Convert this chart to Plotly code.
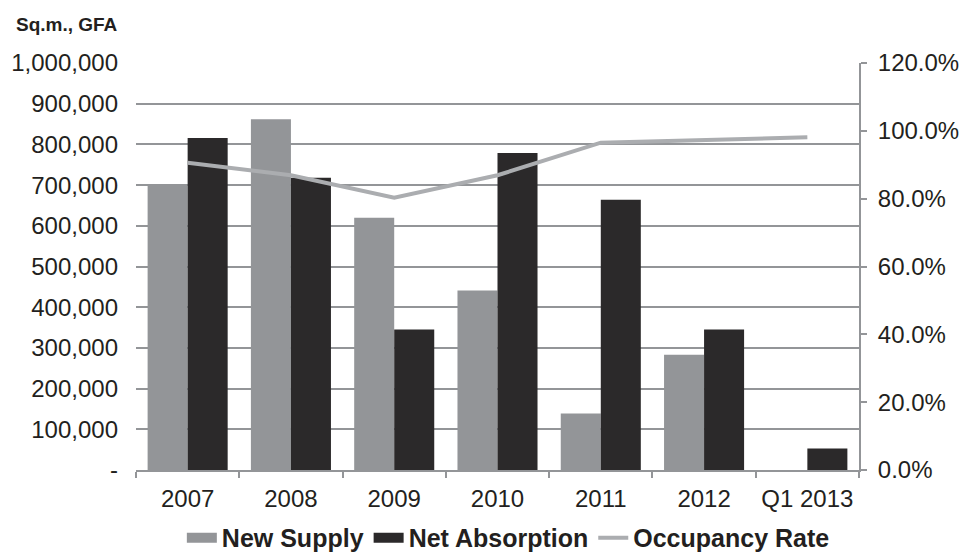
import plotly.graph_objects as go

# Office market data, annual figures with the first quarter of 2013
categories = ["2007", "2008", "2009", "2010", "2011", "2012", "Q1 2013"]
new_supply = [700000, 862000, 620000, 441000, 139000, 283000, None]
net_absorption = [816000, 718000, 345000, 779000, 664000, 345000, 53000]
occupancy_rate = [0.906, 0.869, 0.803, 0.869, 0.965, 0.974, 0.981]

left_tickvals = [0, 100000, 200000, 300000, 400000, 500000, 600000, 700000, 800000, 900000, 1000000]
left_ticktext = ["-", "100,000", "200,000", "300,000", "400,000", "500,000",
                 "600,000", "700,000", "800,000", "900,000", "1,000,000"]

GRAY_BAR = "#939598"
DARK_BAR = "#2b292a"
LINE_GRAY = "#abadb0"
AXIS_GRAY = "#939598"
TEXT = "#231f20"
FONT = "Liberation Sans, Arial, sans-serif"

fig = go.Figure()
fig.add_trace(go.Bar(x=categories, y=new_supply, name="New Supply", legendgroup="ns",
                     showlegend=False, marker=dict(color=GRAY_BAR, line=dict(width=0))))
fig.add_trace(go.Bar(x=categories, y=net_absorption, name="Net Absorption", legendgroup="na",
                     showlegend=False, marker=dict(color=DARK_BAR, line=dict(width=0))))

# Wide rectangular legend keys for the bar series
fig.add_trace(go.Scatter(x=[None], y=[None], mode="lines", name="New Supply",
                         legendgroup="ns", line=dict(color=GRAY_BAR, width=10)))
fig.add_trace(go.Scatter(x=[None], y=[None], mode="lines", name="Net Absorption",
                         legendgroup="na", line=dict(color=DARK_BAR, width=10)))

fig.add_trace(go.Scatter(x=categories, y=occupancy_rate, name="Occupancy Rate",
                         mode="lines", yaxis="y2",
                         line=dict(color=LINE_GRAY, width=4)))

fig.update_layout(
    width=966, height=552,
    margin=dict(l=136, r=107, t=63, b=82, autoexpand=False),
    paper_bgcolor="white", plot_bgcolor="white",
    font=dict(family=FONT, size=24, color=TEXT),
    barmode="group", bargap=0.225, bargroupgap=0,
    showlegend=True,
    legend=dict(orientation="h", x=0.515, xanchor="center", y=-0.167, yanchor="middle",
                font=dict(family=FONT, size=25, color=TEXT, weight="bold"),
                itemwidth=30, tracegroupgap=0, bgcolor="rgba(0,0,0,0)",
                traceorder="normal"),
    xaxis=dict(type="category", showline=True, linecolor=AXIS_GRAY, linewidth=2,
               ticks="outside", tickson="boundaries", ticklen=6, tickwidth=2,
               tickcolor=AXIS_GRAY, showgrid=False, ticklabelstandoff=6,
               automargin=False, tickfont=dict(size=24, color=TEXT)),
    yaxis=dict(range=[0, 1000000], tickvals=left_tickvals, ticktext=left_ticktext,
               showgrid=True, gridcolor=AXIS_GRAY, gridwidth=2, zeroline=False,
               showline=False, ticks="", ticklabelstandoff=17, automargin=False,
               tickfont=dict(size=24, color=TEXT)),
    yaxis2=dict(overlaying="y", side="right", range=[0, 1.2], dtick=0.2, tick0=0,
                tickformat=".1%", showgrid=False, zeroline=False,
                showline=True, linecolor=AXIS_GRAY, linewidth=2,
                ticks="outside", ticklen=6, tickwidth=2, tickcolor=AXIS_GRAY,
                ticklabelstandoff=6, automargin=False,
                tickfont=dict(size=24, color=TEXT)),
    annotations=[dict(text="<b>Sq.m., GFA</b>", xref="paper", yref="paper",
                      x=0, y=1, xanchor="right", yanchor="middle",
                      xshift=-16, yshift=39, showarrow=False,
                      font=dict(family=FONT, size=19, color=TEXT))],
)

fig.write_html("out.html")
